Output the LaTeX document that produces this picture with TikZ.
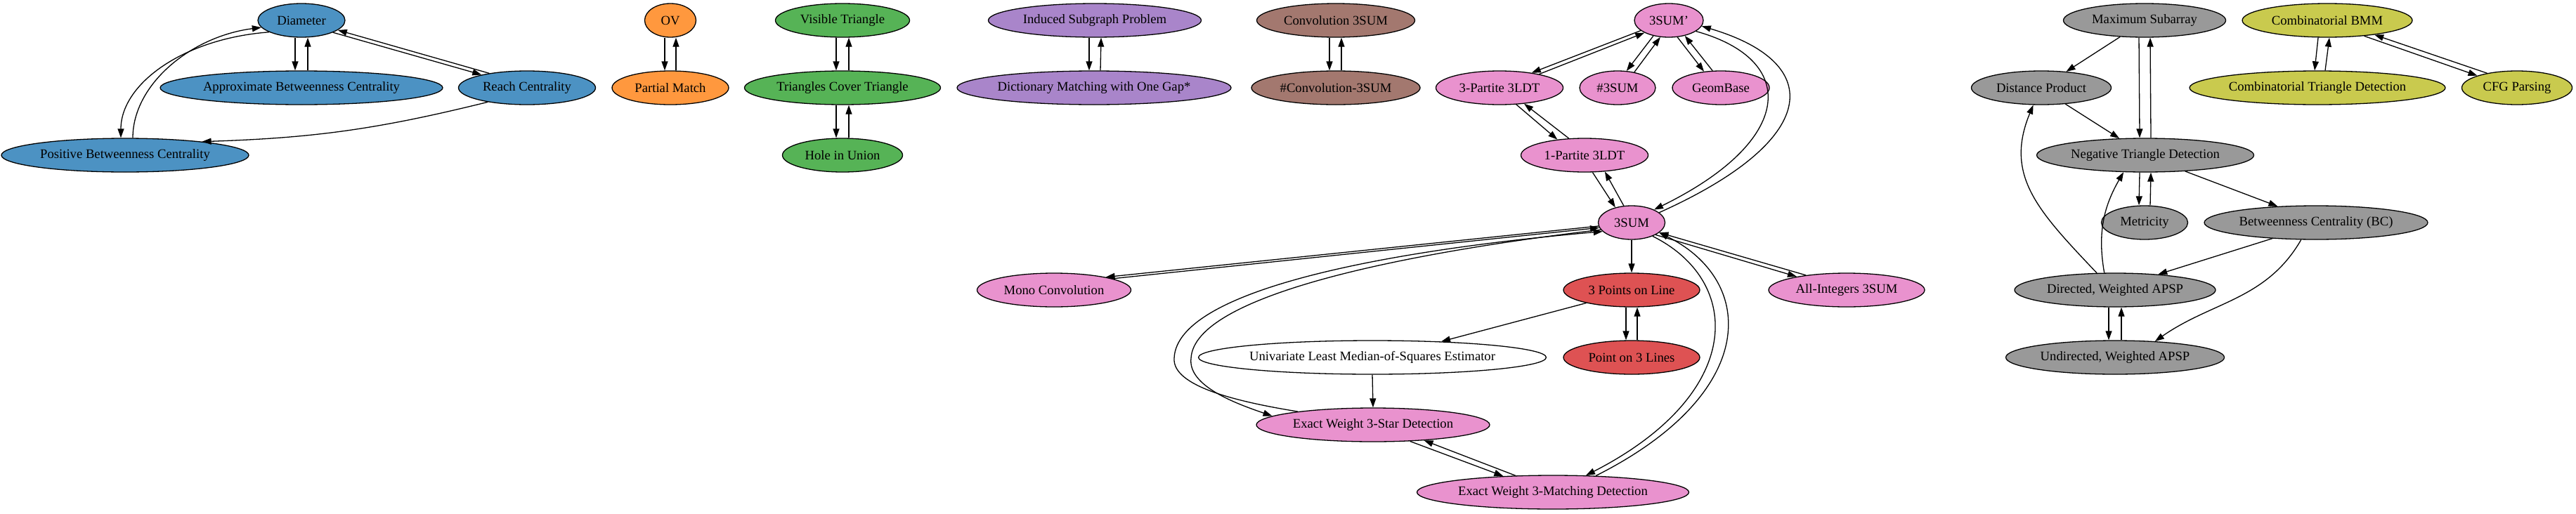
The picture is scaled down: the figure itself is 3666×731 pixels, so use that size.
\documentclass[tikz,border=0pt]{standalone}
\usepackage{fontspec}
\setmainfont{Liberation Serif}
\usetikzlibrary{shapes.geometric,arrows.meta,calc}
\definecolor{cB}{RGB}{76,146,195}
\definecolor{cO}{RGB}{255,152,62}
\definecolor{cG}{RGB}{86,179,86}
\definecolor{cP}{RGB}{169,133,202}
\definecolor{cBr}{RGB}{163,120,111}
\definecolor{cPk}{RGB}{233,146,206}
\definecolor{cR}{RGB}{222,82,83}
\definecolor{cGy}{RGB}{153,153,153}
\definecolor{cOl}{RGB}{201,202,78}
\tikzset{
  gn/.style={ellipse, draw=black, line width=1.3pt, minimum height=48pt, inner sep=0pt,
    font=\fontsize{18.67}{20}\selectfont},
  e/.style={-{Triangle[length=13pt,width=9pt]}, line width=1.3pt},
}
\begin{document}
\begin{tikzpicture}[x=1pt,y=1pt]
\useasboundingbox (0,0) rectangle (3666,-731);
% ---------- blue ----------
\node[gn, fill=cB, minimum width=124pt] (D) at (429,-29) {Diameter};
\node[gn, fill=cB, minimum width=402pt] (ABC) at (429,-125) {Approximate Betweenness Centrality};
\node[gn, fill=cB, minimum width=195pt] (RC) at (750,-125) {Reach Centrality};
\node[gn, fill=cB, minimum width=352pt] (PBC) at (178,-221) {Positive Betweenness Centrality};
% ---------- orange ----------
\node[gn, fill=cO, minimum width=73pt] (OV) at (954,-29) {OV};
\node[gn, fill=cO, minimum width=166pt] (PM) at (954,-125) {Partial Match};
% ---------- green ----------
\node[gn, fill=cG, minimum width=191pt] (VT) at (1199,-29) {Visible Triangle};
\node[gn, fill=cG, minimum width=279pt] (TCT) at (1199,-125) {Triangles Cover Triangle};
\node[gn, fill=cG, minimum width=171pt] (HU) at (1199,-221) {Hole in Union};
% ---------- purple ----------
\node[gn, fill=cP, minimum width=303pt] (ISP) at (1558,-29) {Induced Subgraph Problem};
\node[gn, fill=cP, minimum width=390pt] (DMG) at (1557,-125) {Dictionary Matching with One Gap*};
% ---------- brown ----------
\node[gn, fill=cBr, minimum width=225pt] (C3) at (1901,-29) {Convolution 3SUM};
\node[gn, fill=cBr, minimum width=240pt] (NC3) at (1901,-125) {\#Convolution-3SUM};
% ---------- pink ----------
\node[gn, fill=cPk, minimum width=98pt] (S3p) at (2375,-29) {3SUM'};
\node[gn, fill=cPk, minimum width=181pt] (P3) at (2134,-125) {3-Partite 3LDT};
\node[gn, fill=cPk, minimum width=108pt] (N3) at (2302,-125) {\#3SUM};
\node[gn, fill=cPk, minimum width=138pt] (GB) at (2449,-125) {GeomBase};
\node[gn, fill=cPk, minimum width=181pt] (P1) at (2255,-221) {1-Partite 3LDT};
\node[gn, fill=cPk, minimum width=95pt] (S3) at (2322,-317) {3SUM};
\node[gn, fill=cPk, minimum width=219pt] (MC) at (1500,-413) {Mono Convolution};
\node[gn, fill=cPk, minimum width=222pt] (AI) at (2628,-413) {All-Integers 3SUM};
\node[gn, fill=cPk, minimum width=332pt] (ST) at (1954,-605) {Exact Weight 3-Star Detection};
\node[gn, fill=cPk, minimum width=387pt] (MT) at (2210,-701) {Exact Weight 3-Matching Detection};
% ---------- red ----------
\node[gn, fill=cR, minimum width=194pt] (PL) at (2322,-413) {3 Points on Line};
\node[gn, fill=cR, minimum width=194pt] (PL3) at (2322,-509) {Point on 3 Lines};
\node[gn, fill=white, minimum width=493pt] (LMS) at (1953,-509) {Univariate Least Median-of-Squares Estimator};
% ---------- gray ----------
\node[gn, fill=cGy, minimum width=231pt] (MS) at (3052,-29) {Maximum Subarray};
\node[gn, fill=cGy, minimum width=199pt] (DP) at (2905,-125) {Distance Product};
\node[gn, fill=cGy, minimum width=309pt] (NTD) at (3053,-221) {Negative Triangle Detection};
\node[gn, fill=cGy, minimum width=123pt] (ME) at (3052,-317) {Metricity};
\node[gn, fill=cGy, minimum width=318pt] (BC) at (3296,-317) {Betweenness Centrality (BC)};
\node[gn, fill=cGy, minimum width=286pt] (DA) at (3010,-413) {Directed, Weighted APSP};
\node[gn, fill=cGy, minimum width=311pt] (UA) at (3010,-509) {Undirected, Weighted APSP};
% ---------- olive ----------
\node[gn, fill=cOl, minimum width=242pt] (CB) at (3312,-29) {Combinatorial BMM};
\node[gn, fill=cOl, minimum width=364pt] (CT) at (3298,-125) {Combinatorial Triangle Detection};
\node[gn, fill=cOl, minimum width=157pt] (CF) at (3582,-125) {CFG Parsing};

% ===== edges: blue =====
\draw[e] ([xshift=-9pt]D.south) -- ([xshift=-9pt]ABC.north);
\draw[e] ([xshift=9pt]ABC.north) -- ([xshift=9pt]D.south);
\draw[e] (D.-21) -- (RC.164);
\draw[e] (RC.159) -- (D.-15);
\draw[e] (D.200) .. controls (260,-55) and (172,-120) .. ([xshift=-6pt]PBC.north);
\draw[e] ([xshift=11pt]PBC.north) .. controls (189,-120) and (272,-52) .. (D.190);
\draw[e] (RC.200) to[bend left=6] (PBC.10);
% ===== orange, green, purple, brown =====
\draw[e] ([xshift=-8pt]OV.south) -- ([xshift=-8pt]PM.north);
\draw[e] ([xshift=8pt]PM.north) -- ([xshift=8pt]OV.south);
\draw[e] ([xshift=-9pt]VT.south) -- ([xshift=-9pt]TCT.north);
\draw[e] ([xshift=9pt]TCT.north) -- ([xshift=9pt]VT.south);
\draw[e] ([xshift=-9pt]TCT.south) -- ([xshift=-9pt]HU.north);
\draw[e] ([xshift=9pt]HU.north) -- ([xshift=9pt]TCT.south);
\draw[e] ([xshift=-8pt]ISP.south) -- ([xshift=-7pt]DMG.north);
\draw[e] ([xshift=9pt]DMG.north) -- ([xshift=9pt]ISP.south);
\draw[e] ([xshift=-9pt]C3.south) -- ([xshift=-9pt]NC3.north);
\draw[e] ([xshift=8pt]NC3.north) -- ([xshift=8pt]C3.south);
% ===== pink =====
\draw[e] (S3p.200) -- (P3.25);
\draw[e] (P3.19) -- (S3p.207);
\draw[e] (S3p.225) -- (N3.62);
\draw[e] (N3.43) -- (S3p.243);
\draw[e] (S3p.-63) -- (GB.136);
\draw[e] (GB.116) -- (S3p.-44);
\draw[e] (S3.20) .. controls (2590,-200) and (2600,-90) .. (S3p.-10);
\draw[e] (S3p.-22) .. controls (2560,-85) and (2555,-200) .. (S3.30);
\draw[e] (P3.-45) -- (P1.150);
\draw[e] (P1.133) -- (P3.-33);
\draw[e] (P1.-65) -- (S3.137);
\draw[e] (S3.115) -- (P1.-39);
\draw[e] (S3.186) -- (MC.14);
\draw[e] (MC.11) -- (S3.189);
\draw[e] (S3.193) .. controls (2000,-360) and (1700,-420) .. (1695,-510)
  .. controls (1690,-550) and (1760,-575) .. (ST.175);
\draw[e] (ST.170) .. controls (1760,-572) and (1668,-550) .. (1671,-510)
  .. controls (1675,-410) and (1990,-355) .. (S3.197);
\draw[e] (S3.south) -- (PL.north);
\draw[e] ([xshift=-8pt]PL.south) -- ([xshift=-8pt]PL3.north);
\draw[e] ([xshift=8pt]PL3.north) -- ([xshift=8pt]PL.south);
\draw[e] (PL.196) -- (LMS.13);
\draw[e] (LMS.south) -- (ST.north);
\draw[e] (ST.-24) -- (MT.162);
\draw[e] (MT.156) -- (ST.-17.5);
\draw[e] (S3.-33) .. controls (2480,-400) and (2485,-560) .. (MT.27);
\draw[e] (MT.21) .. controls (2505,-560) and (2500,-400) .. (S3.-20);
\draw[e] (S3.-27) -- (AI.165);
\draw[e] (AI.160) -- (S3.-20);
% ===== gray =====
\draw[e] (MS.214) -- (DP.33);
\draw[e] ([xshift=-8pt]MS.south) -- ([xshift=-8pt]NTD.north);
\draw[e] ([xshift=8pt]NTD.north) -- ([xshift=8pt]MS.south);
\draw[e] (DP.-34) -- (NTD.147);
\draw[e] ([xshift=-8pt]NTD.south) -- ([xshift=-8pt]ME.north);
\draw[e] ([xshift=8pt]ME.north) -- ([xshift=8pt]NTD.south);
\draw[e] (NTD.-22) -- (BC.157);
\draw[e] (DA.137) .. controls (2900,-300) and (2852,-250) .. (DP.245);
\draw[e] (DA.122) to[out=100,in=240] (NTD.218);
\draw[e] (BC.200) -- (DA.20);
\draw[e] (BC.229) to[out=240,in=35] (UA.22);
\draw[e] ([xshift=-9pt]DA.south) -- ([xshift=-9pt]UA.north);
\draw[e] ([xshift=9pt]UA.north) -- ([xshift=9pt]DA.south);
% ===== olive =====
\draw[e] ([xshift=-13pt]CB.south) -- ([xshift=-4pt]CT.north);
\draw[e] ([xshift=11pt]CT.north) -- ([xshift=3pt]CB.south);
\draw[e] (CB.-23) -- (CF.163);
\draw[e] (CF.154) -- (CB.-17);
\end{tikzpicture}
\end{document}
